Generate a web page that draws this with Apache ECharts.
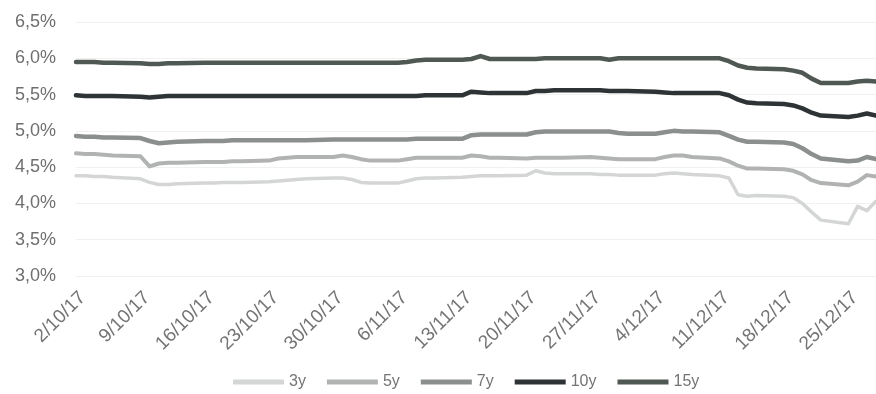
<!DOCTYPE html>
<html>
<head>
<meta charset="utf-8">
<script src="https://cdn.jsdelivr.net/npm/echarts@6/dist/echarts.min.js"></script>
<style>
  html, body { margin: 0; padding: 0; background: #ffffff; }
  #chart { width: 876px; height: 394px; }
</style>
</head>
<body>
<div id="chart"></div>
<script>
// Trading days, 2 Oct – 28 Dec 2017
const dates = [
  '2017-10-02','2017-10-03','2017-10-04','2017-10-05','2017-10-06',
  '2017-10-09','2017-10-10','2017-10-11','2017-10-12','2017-10-13',
  '2017-10-16','2017-10-17','2017-10-18','2017-10-19','2017-10-20',
  '2017-10-23','2017-10-24','2017-10-25','2017-10-26','2017-10-27',
  '2017-10-30','2017-10-31','2017-11-01','2017-11-02','2017-11-03',
  '2017-11-06','2017-11-07','2017-11-08','2017-11-09','2017-11-10',
  '2017-11-13','2017-11-14','2017-11-15','2017-11-16','2017-11-17',
  '2017-11-20','2017-11-21','2017-11-22','2017-11-23','2017-11-24',
  '2017-11-27','2017-11-28','2017-11-29','2017-11-30','2017-12-01',
  '2017-12-04','2017-12-05','2017-12-06','2017-12-07','2017-12-08',
  '2017-12-11','2017-12-12','2017-12-13','2017-12-14','2017-12-15',
  '2017-12-18','2017-12-19','2017-12-20','2017-12-21','2017-12-22',
  '2017-12-25','2017-12-26','2017-12-27','2017-12-28'
];

// Yields, %
const y3 = [
  4.38, 4.38, 4.37, 4.37, 4.36,
  4.34, 4.29, 4.26, 4.26, 4.27,
  4.28, 4.28, 4.29, 4.29, 4.29,
  4.30, 4.31, 4.32, 4.33, 4.34,
  4.35, 4.35, 4.33, 4.29, 4.28,
  4.28, 4.31, 4.34, 4.35, 4.35,
  4.36, 4.37, 4.38, 4.38, 4.38,
  4.39, 4.45, 4.42, 4.41, 4.41,
  4.41, 4.40, 4.40, 4.39, 4.39,
  4.39, 4.41, 4.42, 4.41, 4.40,
  4.38, 4.35, 4.12, 4.10, 4.11,
  4.10, 4.08, 4.00, 3.88, 3.77,
  3.72, 3.96, 3.90, 4.03
];
const y5 = [
  4.69, 4.68, 4.68, 4.67, 4.66,
  4.65, 4.51, 4.55, 4.56, 4.56,
  4.57, 4.57, 4.57, 4.58, 4.58,
  4.59, 4.62, 4.63, 4.64, 4.64,
  4.64, 4.66, 4.64, 4.61, 4.59,
  4.59, 4.61, 4.63, 4.63, 4.63,
  4.63, 4.66, 4.65, 4.63, 4.63,
  4.62, 4.63, 4.63, 4.63, 4.63,
  4.64, 4.63, 4.62, 4.61, 4.61,
  4.61, 4.64, 4.66, 4.66, 4.64,
  4.62, 4.58, 4.52, 4.48, 4.48,
  4.47, 4.45, 4.40, 4.32, 4.28,
  4.25, 4.30, 4.39, 4.37
];
const y7 = [
  4.93, 4.92, 4.92, 4.91, 4.91,
  4.90, 4.86, 4.83, 4.84, 4.85,
  4.86, 4.86, 4.86, 4.87, 4.87,
  4.87, 4.87, 4.87, 4.87, 4.87,
  4.88, 4.88, 4.88, 4.88, 4.88,
  4.88, 4.88, 4.89, 4.89, 4.89,
  4.89, 4.94, 4.95, 4.95, 4.95,
  4.95, 4.98, 4.99, 4.99, 4.99,
  4.99, 4.99, 4.99, 4.97, 4.96,
  4.96, 4.98, 5.00, 4.99, 4.99,
  4.98, 4.93, 4.88, 4.85, 4.85,
  4.84, 4.82, 4.76, 4.68, 4.62,
  4.58, 4.59, 4.64, 4.61
];
const y10 = [
  5.49, 5.48, 5.48, 5.48, 5.48,
  5.47, 5.46, 5.47, 5.48, 5.48,
  5.48, 5.48, 5.48, 5.48, 5.48,
  5.48, 5.48, 5.48, 5.48, 5.48,
  5.48, 5.48, 5.48, 5.48, 5.48,
  5.48, 5.48, 5.48, 5.49, 5.49,
  5.49, 5.54, 5.53, 5.52, 5.52,
  5.52, 5.55, 5.55, 5.56, 5.56,
  5.56, 5.56, 5.55, 5.55, 5.55,
  5.54, 5.53, 5.52, 5.52, 5.52,
  5.52, 5.49, 5.43, 5.39, 5.38,
  5.37, 5.35, 5.31, 5.25, 5.21,
  5.19, 5.21, 5.24, 5.21
];
const y15 = [
  5.95, 5.95, 5.95, 5.94, 5.94,
  5.93, 5.92, 5.92, 5.93, 5.93,
  5.94, 5.94, 5.94, 5.94, 5.94,
  5.94, 5.94, 5.94, 5.94, 5.94,
  5.94, 5.94, 5.94, 5.94, 5.94,
  5.94, 5.95, 5.97, 5.98, 5.98,
  5.98, 5.99, 6.03, 5.99, 5.99,
  5.99, 5.99, 6.00, 6.00, 6.00,
  6.00, 6.00, 5.98, 6.00, 6.00,
  6.00, 6.00, 6.00, 6.00, 6.00,
  6.00, 5.96, 5.90, 5.87, 5.86,
  5.85, 5.83, 5.80, 5.72, 5.66,
  5.66, 5.68, 5.69, 5.68
];

// Weekly axis labels (Mondays)
const tickDates = [
  '2017-10-02','2017-10-09','2017-10-16','2017-10-23','2017-10-30',
  '2017-11-06','2017-11-13','2017-11-20','2017-11-27','2017-12-04',
  '2017-12-11','2017-12-18','2017-12-25'
];

const seriesNames = ['3y', '5y', '7y', '10y', '15y'];
const seriesValues = [y3, y5, y7, y10, y15];
const seriesColors = ['#d4d5d5', '#b1b3b2', '#8b8f8d', '#2e3436', '#505853'];
const seriesWidths = [3.5, 4, 4.5, 4.5, 4.5];

// Date axis measured in days from the first trading day
const DAY = 86400000;
const origin = Date.UTC(2017, 9, 2);
function dayIndex(s) {
  const p = s.split('-').map(Number);
  return Math.round((Date.UTC(p[0], p[1] - 1, p[2]) - origin) / DAY);
}
function dayLabel(v) {
  const d = new Date(origin + Math.round(v) * DAY);
  return d.getUTCDate() + '/' + (d.getUTCMonth() + 1) + '/' + String(d.getUTCFullYear()).slice(2);
}

const chart = echarts.init(document.getElementById('chart'));

chart.setOption({
  animation: false,
  backgroundColor: '#ffffff',
  textStyle: { fontFamily: 'Liberation Sans, Arial, sans-serif' },
  grid: { left: 76, right: 0, top: 22, bottom: 118 },
  legend: {
    data: seriesNames,
    left: 228,
    top: 369,
    icon: 'rect',
    itemWidth: 51,
    itemHeight: 5,
    itemGap: 21,
    textStyle: { color: '#747474', fontSize: 16 }
  },
  xAxis: {
    type: 'value',
    min: dayIndex(dates[0]),
    max: dayIndex(dates[dates.length - 1]),
    axisLine: { show: false },
    axisTick: { show: false },
    splitLine: { show: false },
    axisLabel: {
      customValues: tickDates.map(dayIndex),
      rotate: 45,
      margin: 12,
      align: 'right',
      verticalAlign: 'top',
      color: '#747474',
      fontSize: 19,
      hideOverlap: false,
      showMinLabel: true,
      showMaxLabel: true,
      formatter: dayLabel
    }
  },
  yAxis: {
    type: 'value',
    min: 3,
    max: 6.5,
    interval: 0.5,
    axisLine: { show: false },
    axisTick: { show: false },
    splitLine: { lineStyle: { color: '#f1f1f1', width: 1 } },
    axisLabel: {
      margin: 20,
      color: '#6f6f6f',
      fontSize: 18,
      formatter: function (v) { return v.toFixed(1).replace('.', ',') + '%'; }
    }
  },
  series: seriesNames.map(function (name, i) {
    return {
      name: name,
      type: 'line',
      showSymbol: false,
      symbol: 'none',
      clip: true,
      color: seriesColors[i],
      lineStyle: { width: seriesWidths[i], color: seriesColors[i], cap: 'round', join: 'round' },
      data: dates.map(function (d, k) { return [dayIndex(d), seriesValues[i][k]]; })
    };
  })
});
</script>
</body>
</html>
